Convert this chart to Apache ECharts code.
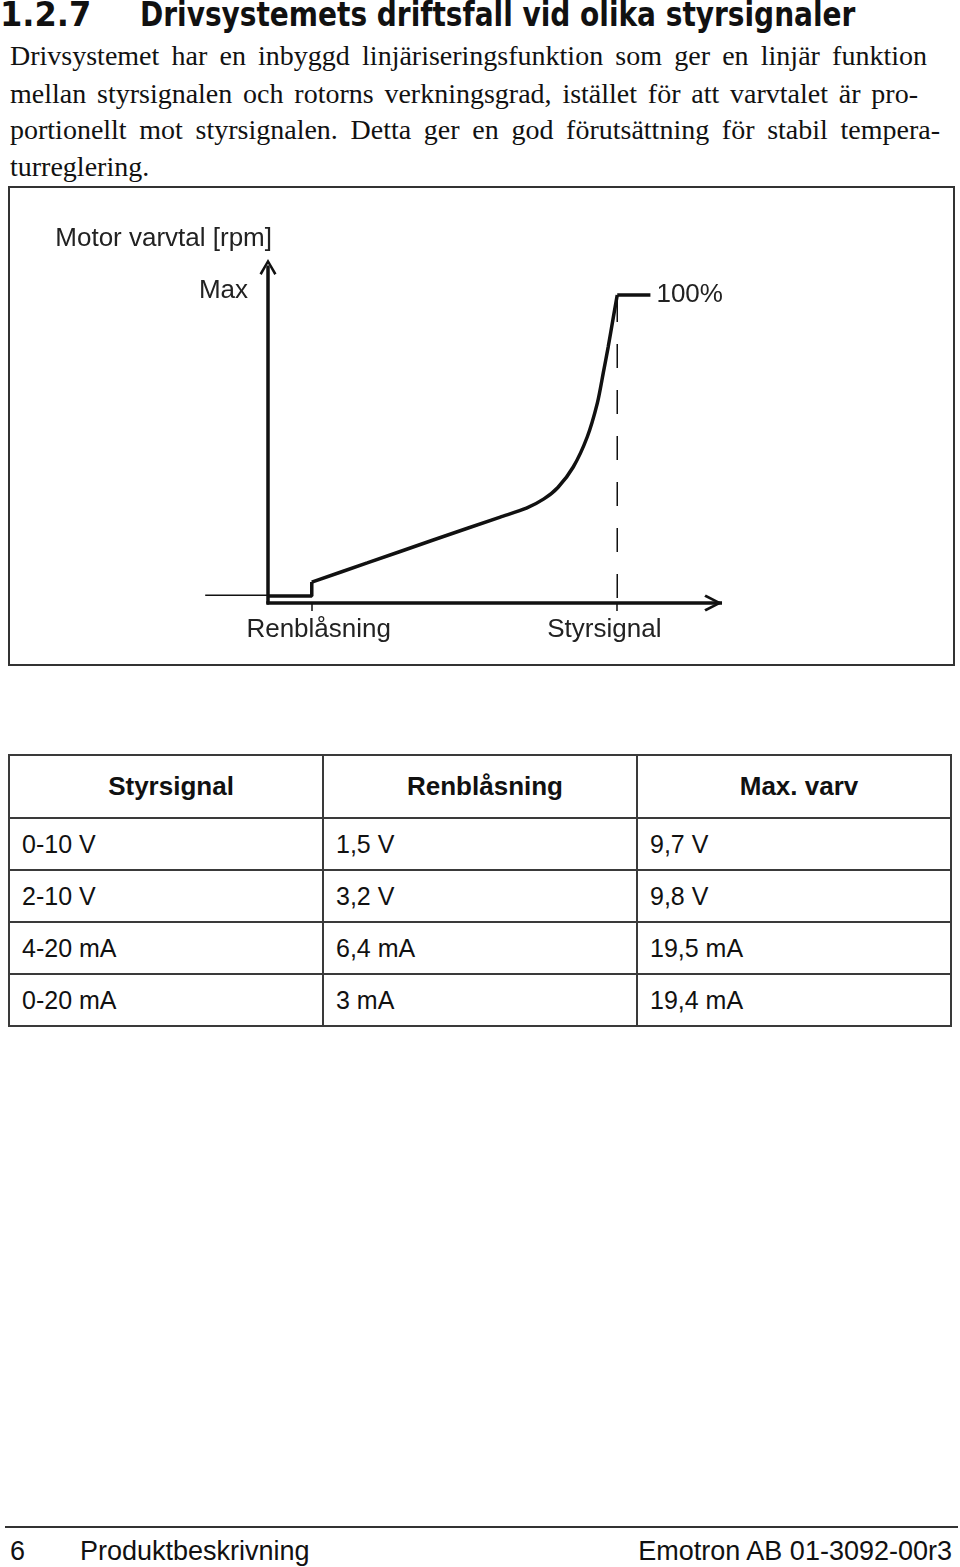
<!DOCTYPE html>
<html>
<head>
<meta charset="utf-8">
<script src="https://cdn.jsdelivr.net/npm/echarts@6/dist/echarts.min.js"></script>
<style>
  html,body{margin:0;padding:0;background:#fff;}
  body{width:960px;height:1567px;position:relative;overflow:hidden;color:#111;}
  #heading{position:absolute;left:0;top:-2px;font-family:"Liberation Sans Narrow","DejaVu Sans Condensed",sans-serif;font-weight:bold;font-size:33px;line-height:34px;white-space:nowrap;}
  #heading .num{display:inline-block;width:140px;transform:scaleX(1.08);transform-origin:left center;}
  #heading .ttl{display:inline-block;transform:scaleX(0.943);transform-origin:left center;}
  .pl{position:absolute;left:10px;font-family:"Liberation Serif","DejaVu Serif",serif;font-size:28px;line-height:37px;white-space:nowrap;}
  .pl.j{text-align:justify;text-align-last:justify;white-space:normal;}
  #chart{position:absolute;left:0;top:0;width:960px;height:700px;}
  table{position:absolute;left:8px;top:754px;width:944px;table-layout:fixed;border-collapse:collapse;font-family:"Liberation Sans","Arial",sans-serif;}
  td,th{border:2px solid #3a3a3a;padding:0 0 0 12px;text-align:left;font-size:25px;font-weight:normal;height:50px;overflow:hidden;white-space:nowrap;}
  th{font-weight:bold;text-align:center;height:61px;font-family:"Liberation Sans Narrow","Liberation Sans",sans-serif;font-size:26px;padding:0 0 0 10px;}
  #rule{position:absolute;left:5px;top:1526px;width:953px;height:2px;background:#333;}
  .ft{position:absolute;top:1535px;font-family:"Liberation Sans","Arial",sans-serif;font-size:27px;line-height:32px;white-space:nowrap;}
</style>
</head>
<body>
<div id="heading"><span class="num">1.2.7</span><span class="ttl">Drivsystemets driftsfall vid olika styrsignaler</span></div>
<div class="pl j" style="top:37px;width:917px;">Drivsystemet har en inbyggd linjäriseringsfunktion som ger en linjär funktion</div>
<div class="pl j" style="top:75px;width:908px;">mellan styrsignalen och rotorns verkningsgrad, istället för att varvtalet är pro-</div>
<div class="pl j" style="top:111px;width:930px;">portionellt mot styrsignalen. Detta ger en god förutsättning för stabil tempera-</div>
<div class="pl" style="top:148px;">turreglering.</div>

<div id="chart"></div>

<table id="tbl"><colgroup><col style="width:314px"><col style="width:314px"><col style="width:314px"></colgroup></table>

<div id="rule"></div>
<div class="ft" style="left:10px;">6</div>
<div class="ft" style="left:80px;">Produktbeskrivning</div>
<div class="ft" style="right:8px;">Emotron AB 01-3092-00r3</div>

<script>
// ---- chart data (normalized: x = control signal, y = motor speed) ----
const baseLine = [[-0.18, 0.025], [0, 0.025]];
const stepLine = [[0, 0.023], [0.1252, 0.023], [0.1252, 0.068]];
const curveX = [0.1252, 0.284, 0.473, 0.665, 0.740, 0.790, 0.830, 0.874, 0.914, 0.943, 0.960, 0.974, 0.989, 1.0];
const curveY = [0.068, 0.130, 0.2045, 0.279, 0.308, 0.338, 0.375, 0.4416, 0.539, 0.649, 0.747, 0.831, 0.929, 1.0];
const topLine = [[1.0, 1.0], [1.095, 1.0]];
const dashLine = [[1, 0.99], [1, 0]];
const xAxisLineX = [-0.005, 1.275, 1.30];
const xTickValues = [0.1252, 1];
const xLabelValues = [0.145, 0.963];
const xLabelTexts = ['Renblåsning', 'Styrsignal'];
const yLabelValues = [1.013];
const yLabelTexts = ['Max'];
const yAxisName = 'Motor varvtal [rpm]';
const topLabel = '100%';

// ---- table data ----
const tableHeader = ['Styrsignal', 'Renblåsning', 'Max. varv'];
const colSignal = ['0-10 V', '2-10 V', '4-20 mA', '0-20 mA'];
const colPurge = ['1,5 V', '3,2 V', '6,4 mA', '3 mA'];
const colMax = ['9,7 V', '9,8 V', '19,5 mA', '19,4 mA'];

(function buildTable(){
  const t = document.getElementById('tbl');
  let h = '<tr>' + tableHeader.map(s => '<th>' + s + '</th>').join('') + '</tr>';
  for (let i = 0; i < colSignal.length; i++) {
    h += '<tr><td>' + colSignal[i] + '</td><td>' + colPurge[i] + '</td><td>' + colMax[i] + '</td></tr>';
  }
  t.insertAdjacentHTML('beforeend', h);
})();

const chart = echarts.init(document.getElementById('chart'), null, {renderer: 'canvas'});
const chevron = 'path://M10,0 L20,17 L17.4,18.6 L10,5.6 L2.6,18.6 L0,17 Z';
const txt = {fontFamily: '"Liberation Sans", Arial, sans-serif', fontSize: 26, color: '#222'};
const lineCol = '#111';

const option = {
  animation: false,
  grid: {left: 205.2, top: 267, right: 238, bottom: 97, containLabel: false},
  xAxis: {
    type: 'value', min: -0.18, max: 1.30,
    axisLine: {show: false},
    axisTick: {show: true, customValues: xTickValues, length: 8, inside: false, lineStyle: {color: lineCol, width: 1.5}},
    axisLabel: {show: true, customValues: xLabelValues, margin: 14, formatter: v => xLabelTexts[xLabelValues.indexOf(v)], ...txt},
    splitLine: {show: false}
  },
  yAxis: {
    type: 'value', min: 0, max: 1.091, offset: -62.8,
    name: yAxisName, nameLocation: 'end', nameGap: 15,
    nameTextStyle: {...txt, align: 'right', padding: [0, -4, 0, 0]},
    axisLine: {show: true, onZero: false, lineStyle: {color: lineCol, width: 3.5}, symbol: ['none', chevron], symbolSize: [17, 18]},
    axisTick: {show: false},
    axisLabel: {show: true, customValues: yLabelValues, margin: 20, formatter: v => yLabelTexts[yLabelValues.indexOf(v)], ...txt},
    splitLine: {show: false}
  },
  graphic: [{
    type: 'rect', shape: {x: 9, y: 187, width: 945, height: 478},
    style: {fill: 'none', stroke: '#333', lineWidth: 2}, silent: true, z: 0
  }],
  series: [
    {type: 'line', data: [
        {value: [xAxisLineX[0], 0], symbol: 'none'},
        {value: [xAxisLineX[1], 0], symbol: chevron, symbolSize: [17, 18], symbolRotate: -90},
        {value: [xAxisLineX[2], 0], symbol: 'none'}],
      showSymbol: true, showAllSymbol: true, clip: false,
      lineStyle: {color: lineCol, width: 3.5}, itemStyle: {color: lineCol}},
    {type: 'line', data: baseLine, symbol: 'none', clip: false, lineStyle: {color: lineCol, width: 1.6}},
    {type: 'line', data: stepLine, symbol: 'none', clip: false, lineStyle: {color: lineCol, width: 3.5}},
    {type: 'line', data: curveX.map((x, i) => [x, curveY[i]]), symbol: 'none', smooth: 0.25, clip: false, lineStyle: {color: lineCol, width: 3.5}},
    {type: 'line', data: topLine, symbol: 'none', clip: false, lineStyle: {color: lineCol, width: 3.5},
      endLabel: {show: true, formatter: topLabel, distance: 6, ...txt}},
    {type: 'line', data: dashLine, symbol: 'none', clip: false, lineStyle: {color: lineCol, width: 1.5, type: [24, 22]}}
  ]
};
chart.setOption(option);
</script>
</body>
</html>
